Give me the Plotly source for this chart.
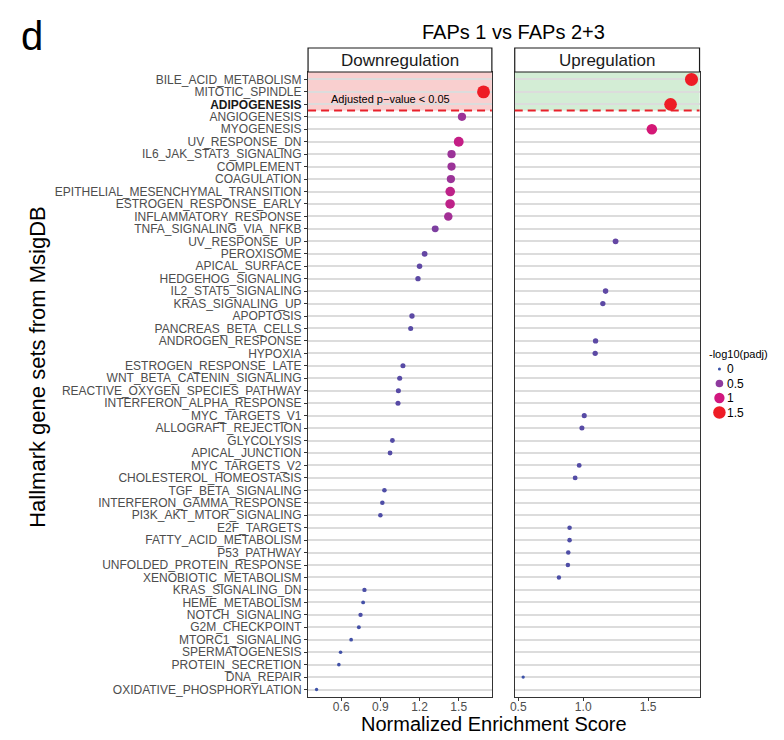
import math
import plotly.graph_objects as go

# ---------------- data ----------------
categories = [
    "BILE_ACID_METABOLISM", "MITOTIC_SPINDLE", "ADIPOGENESIS", "ANGIOGENESIS", "MYOGENESIS",
    "UV_RESPONSE_DN", "IL6_JAK_STAT3_SIGNALING", "COMPLEMENT", "COAGULATION",
    "EPITHELIAL_MESENCHYMAL_TRANSITION", "ESTROGEN_RESPONSE_EARLY", "INFLAMMATORY_RESPONSE",
    "TNFA_SIGNALING_VIA_NFKB", "UV_RESPONSE_UP", "PEROXISOME", "APICAL_SURFACE",
    "HEDGEHOG_SIGNALING", "IL2_STAT5_SIGNALING", "KRAS_SIGNALING_UP", "APOPTOSIS",
    "PANCREAS_BETA_CELLS", "ANDROGEN_RESPONSE", "HYPOXIA", "ESTROGEN_RESPONSE_LATE",
    "WNT_BETA_CATENIN_SIGNALING", "REACTIVE_OXYGEN_SPECIES_PATHWAY", "INTERFERON_ALPHA_RESPONSE",
    "MYC_TARGETS_V1", "ALLOGRAFT_REJECTION", "GLYCOLYSIS", "APICAL_JUNCTION", "MYC_TARGETS_V2",
    "CHOLESTEROL_HOMEOSTASIS", "TGF_BETA_SIGNALING", "INTERFERON_GAMMA_RESPONSE",
    "PI3K_AKT_MTOR_SIGNALING", "E2F_TARGETS", "FATTY_ACID_METABOLISM", "P53_PATHWAY",
    "UNFOLDED_PROTEIN_RESPONSE", "XENOBIOTIC_METABOLISM", "KRAS_SIGNALING_DN",
    "HEME_METABOLISM", "NOTCH_SIGNALING", "G2M_CHECKPOINT", "MTORC1_SIGNALING",
    "SPERMATOGENESIS", "PROTEIN_SECRETION", "DNA_REPAIR", "OXIDATIVE_PHOSPHORYLATION",
]

down_terms = [
    "MITOTIC_SPINDLE", "ANGIOGENESIS", "UV_RESPONSE_DN", "IL6_JAK_STAT3_SIGNALING", "COMPLEMENT",
    "COAGULATION", "EPITHELIAL_MESENCHYMAL_TRANSITION", "ESTROGEN_RESPONSE_EARLY",
    "INFLAMMATORY_RESPONSE", "TNFA_SIGNALING_VIA_NFKB", "PEROXISOME", "APICAL_SURFACE",
    "HEDGEHOG_SIGNALING", "APOPTOSIS", "PANCREAS_BETA_CELLS", "ESTROGEN_RESPONSE_LATE",
    "WNT_BETA_CATENIN_SIGNALING", "REACTIVE_OXYGEN_SPECIES_PATHWAY", "INTERFERON_ALPHA_RESPONSE",
    "GLYCOLYSIS", "APICAL_JUNCTION", "TGF_BETA_SIGNALING", "INTERFERON_GAMMA_RESPONSE",
    "PI3K_AKT_MTOR_SIGNALING", "KRAS_SIGNALING_DN", "HEME_METABOLISM", "NOTCH_SIGNALING",
    "G2M_CHECKPOINT", "MTORC1_SIGNALING", "SPERMATOGENESIS", "PROTEIN_SECRETION",
    "OXIDATIVE_PHOSPHORYLATION",
]
down_nes = [
    1.69, 1.525, 1.50, 1.445, 1.445,
    1.44, 1.435, 1.434,
    1.42, 1.32, 1.239, 1.20,
    1.188, 1.142, 1.132, 1.073,
    1.048, 1.038, 1.035,
    0.992, 0.974, 0.931, 0.915,
    0.90, 0.778, 0.768, 0.748,
    0.735, 0.676, 0.595, 0.582,
    0.411,
]
down_mlog10padj = [
    1.60, 0.60, 0.90, 0.60, 0.60,
    0.60, 0.85, 0.85,
    0.65, 0.40, 0.25, 0.22,
    0.20, 0.20, 0.17, 0.17,
    0.17, 0.17, 0.17,
    0.15, 0.15, 0.12, 0.12,
    0.12, 0.10, 0.06, 0.10,
    0.06, 0.05, 0.04, 0.04,
    0.02,
]

up_terms = [
    "BILE_ACID_METABOLISM", "ADIPOGENESIS", "MYOGENESIS", "UV_RESPONSE_UP", "IL2_STAT5_SIGNALING",
    "KRAS_SIGNALING_UP", "ANDROGEN_RESPONSE", "HYPOXIA", "MYC_TARGETS_V1", "ALLOGRAFT_REJECTION",
    "MYC_TARGETS_V2", "CHOLESTEROL_HOMEOSTASIS", "E2F_TARGETS", "FATTY_ACID_METABOLISM",
    "P53_PATHWAY", "UNFOLDED_PROTEIN_RESPONSE", "XENOBIOTIC_METABOLISM", "DNA_REPAIR",
]
up_nes = [
    1.833, 1.672, 1.528, 1.249, 1.172,
    1.151, 1.095, 1.092, 1.008, 0.99,
    0.969, 0.938, 0.895, 0.895,
    0.885, 0.882, 0.813, 0.538,
]
up_mlog10padj = [
    1.65, 1.55, 1.05, 0.25, 0.22,
    0.20, 0.20, 0.20, 0.17, 0.17,
    0.15, 0.15, 0.12, 0.12,
    0.12, 0.12, 0.10, 0.02,
]

bold_terms = ["ADIPOGENESIS"]
n_significant_rows = 3
legend_values = [0, 0.5, 1, 1.5]
legend_labels = ["0", "0.5", "1", "1.5"]
x1_tickvals = [0.6, 0.9, 1.2, 1.5]
x2_tickvals = [0.5, 1.0, 1.5]
x2_ticktext = ["0.5", "1.0", "1.5"]

# ---------------- styling helpers ----------------
W, H = 784, 740
FONT = "Liberation Sans, Arial, sans-serif"
COLORSCALE = [[0.0, "#3A53A8"], [0.333, "#8E3A9E"], [0.667, "#D1177F"], [1.0, "#EE1C25"]]
CMAX = 1.5


def fx(px):
    return px / W


def fy(py):
    return 1 - py / H


def msize(v):
    return math.sqrt(9 + 98 * v)


n = len(categories)
ypos = {c: n - i for i, c in enumerate(categories)}

fig = go.Figure()

fig.add_trace(go.Scatter(
    x=down_nes, y=[ypos[t] for t in down_terms], mode="markers", xaxis="x", yaxis="y",
    marker=dict(size=[msize(v) for v in down_mlog10padj], color=down_mlog10padj,
                colorscale=COLORSCALE, cmin=0, cmax=CMAX, line=dict(width=0), opacity=1),
    showlegend=False, hoverinfo="skip"))
fig.add_trace(go.Scatter(
    x=up_nes, y=[ypos[t] for t in up_terms], mode="markers", xaxis="x2", yaxis="y2",
    marker=dict(size=[msize(v) for v in up_mlog10padj], color=up_mlog10padj,
                colorscale=COLORSCALE, cmin=0, cmax=CMAX, line=dict(width=0), opacity=1),
    showlegend=False, hoverinfo="skip"))

# legend keys on a hidden helper axis (pixel-like coordinates)
leg_y = [369 + 14.5 * i for i in range(len(legend_values))]
fig.add_trace(go.Scatter(
    x=[719] * len(legend_values), y=leg_y, mode="markers", xaxis="x3", yaxis="y3",
    marker=dict(size=[msize(v) for v in legend_values], color=legend_values,
                colorscale=COLORSCALE, cmin=0, cmax=CMAX, line=dict(width=0), opacity=1),
    showlegend=False, hoverinfo="skip"))

ticktext = []
for c in categories:
    if c in bold_terms:
        ticktext.append('<b><span style="color:#1A1A1A">' + c + '</span></b>')
    else:
        ticktext.append(c)

yrange = [0.4, n + 0.6]
p1 = (305, 490)
p2 = (513, 699)
ptop, pbot = 72, 697
TICKFONT = dict(size=12, color="#4D4D4D")

axis_common = dict(showline=True, mirror=True, linecolor="#333333", linewidth=1.2,
                   zeroline=False, showgrid=False)

fig.update_layout(
    width=W, height=H, margin=dict(l=0, r=0, t=0, b=0),
    paper_bgcolor="white", plot_bgcolor="rgba(0,0,0,0)",
    font=dict(family=FONT, color="#4D4D4D", size=12),
    xaxis=dict(domain=[fx(p1[0]), fx(p1[1])], range=[0.346, 1.754], anchor="y",
               tickvals=x1_tickvals, ticks="outside", ticklen=3, tickcolor="#333333",
               tickfont=TICKFONT, ticklabelstandoff=-5, **axis_common),
    yaxis=dict(domain=[fy(pbot), fy(ptop)], range=yrange, anchor="x",
               tickvals=[ypos[c] for c in categories], ticktext=ticktext,
               ticks="outside", ticklen=3, tickcolor="#333333", tickfont=TICKFONT,
               showline=True, mirror=True, linecolor="#333333", linewidth=1.2, zeroline=False,
               showgrid=True, gridcolor="#DCDCDC", gridwidth=1.5),
    xaxis2=dict(domain=[fx(p2[0]), fx(p2[1])], range=[0.473, 1.895], anchor="y2",
                tickvals=x2_tickvals, ticktext=x2_ticktext, ticks="outside", ticklen=3,
                tickcolor="#333333", tickfont=TICKFONT, ticklabelstandoff=-5, **axis_common),
    yaxis2=dict(domain=[fy(pbot), fy(ptop)], range=yrange, anchor="x2",
                tickvals=[ypos[c] for c in categories], showticklabels=False, ticks="",
                showline=True, mirror=True, linecolor="#333333", linewidth=1.2, zeroline=False,
                showgrid=True, gridcolor="#DCDCDC", gridwidth=1.5),
    xaxis3=dict(domain=[fx(700), fx(784)], range=[700, 784], anchor="y3", visible=False),
    yaxis3=dict(domain=[fy(430), fy(340)], range=[430, 340], anchor="x3", visible=False),
)

cut = n - n_significant_rows + 0.5
shapes = [
    dict(type="rect", xref="x domain", yref="y", x0=0, x1=1, y0=cut, y1=n + 0.6,
         fillcolor="#F9CFCF", line=dict(width=0), layer="below"),
    dict(type="rect", xref="x2 domain", yref="y2", x0=0, x1=1, y0=cut, y1=n + 0.6,
         fillcolor="#D3EDD5", line=dict(width=0), layer="below"),
    dict(type="line", xref="x domain", yref="y", x0=0, x1=1, y0=cut, y1=cut,
         line=dict(color="#E8202A", width=2, dash="8px,5px")),
    dict(type="line", xref="x2 domain", yref="y2", x0=0, x1=1, y0=cut, y1=cut,
         line=dict(color="#E8202A", width=2, dash="8px,5px")),
    # strip boxes
    dict(type="rect", xref="paper", yref="paper", x0=fx(p1[0]), x1=fx(p1[1]),
         y0=fy(ptop), y1=fy(48), fillcolor="white", line=dict(color="#1A1A1A", width=1.2)),
    dict(type="rect", xref="paper", yref="paper", x0=fx(p2[0]), x1=fx(p2[1]),
         y0=fy(ptop), y1=fy(48), fillcolor="white", line=dict(color="#1A1A1A", width=1.2)),
]
fig.update_layout(shapes=shapes)

ann = [
    dict(text="Downregulation", xref="paper", yref="paper", x=fx((p1[0] + p1[1]) / 2), y=fy(60),
         showarrow=False, font=dict(size=17, color="#1A1A1A"), xanchor="center", yanchor="middle"),
    dict(text="Upregulation", xref="paper", yref="paper", x=fx((p2[0] + p2[1]) / 2), y=fy(60),
         showarrow=False, font=dict(size=17, color="#1A1A1A"), xanchor="center", yanchor="middle"),
    dict(text="FAPs 1 vs FAPs 2+3", xref="paper", yref="paper", x=fx(512), y=fy(32),
         showarrow=False, font=dict(size=20, color="black"), xanchor="center", yanchor="middle"),
    dict(text="d", xref="paper", yref="paper", x=fx(14), y=fy(36),
         showarrow=False, font=dict(size=40, color="black"), xanchor="left", yanchor="middle"),
    dict(text="Hallmark gene sets from MsigDB", xref="paper", yref="paper", x=fx(33), y=fy(367),
         showarrow=False, textangle=-90, font=dict(size=22, color="black"),
         xanchor="center", yanchor="middle"),
    dict(text="Normalized Enrichment Score", xref="paper", yref="paper", x=fx(492), y=fy(724),
         showarrow=False, font=dict(size=20, color="black"), xanchor="center", yanchor="middle"),
    dict(text="Adjusted p\u2212value < 0.05", xref="x", yref="y", x=0.975, y=n - 1.6,
         showarrow=False, font=dict(size=11, color="black"), xanchor="center", yanchor="middle"),
    dict(text="-log10(padj)", xref="x3", yref="y3", x=707, y=354, showarrow=False,
         font=dict(size=11, color="black"), xanchor="left", yanchor="middle"),
]
for lab, yy in zip(legend_labels, leg_y):
    ann.append(dict(text=lab, xref="x3", yref="y3", x=725, y=yy, showarrow=False,
                    font=dict(size=12, color="black"), xanchor="left", yanchor="middle"))
fig.update_layout(annotations=ann)

fig.write_html("out.html", post_script="document.body.style.margin='0';",
               config={"displayModeBar": False})
